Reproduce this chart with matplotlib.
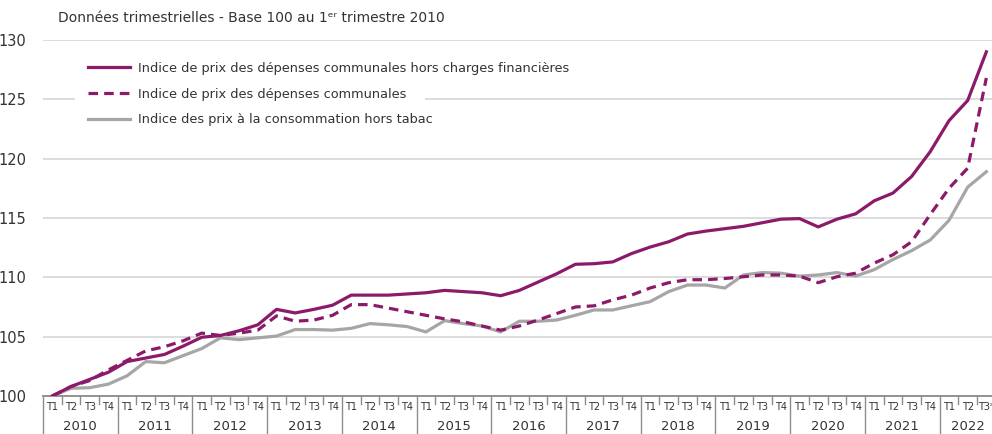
import matplotlib
matplotlib.use("Agg")
import matplotlib.pyplot as plt
from matplotlib.patches import Rectangle
import numpy as np

years = ["2010", "2011", "2012", "2013", "2014", "2015", "2016",
         "2017", "2018", "2019", "2020", "2021", "2022"]
quarters = ["T1", "T2", "T3", "T4"]
last_quarter_labels = ["T1", "T2", "T3*"]

hors_charges = [100.0, 100.8, 101.4, 102.0,
                102.9, 103.2, 103.5, 104.2,
                104.95, 105.1, 105.5, 106.0,
                107.3, 107.0, 107.3, 107.65,
                108.5, 108.5, 108.5, 108.6,
                108.7, 108.9, 108.8, 108.7,
                108.45, 108.9, 109.6, 110.3,
                111.1, 111.15, 111.3, 112.0,
                112.55, 113.0, 113.65, 113.9,
                114.1, 114.3, 114.6, 114.9,
                114.95, 114.25, 114.9, 115.35,
                116.45, 117.1, 118.5, 120.6,
                123.2, 124.9, 129.0]

depenses = [100.0, 100.8, 101.3, 102.2,
            103.0, 103.8, 104.15, 104.65,
            105.3, 105.1, 105.3, 105.55,
            106.75, 106.3, 106.4, 106.8,
            107.7, 107.7, 107.4, 107.1,
            106.8, 106.5, 106.25, 105.9,
            105.55, 105.9, 106.4, 106.95,
            107.5, 107.6, 108.1, 108.5,
            109.1, 109.55, 109.8, 109.8,
            109.9, 110.05, 110.2, 110.2,
            110.1, 109.55, 110.05, 110.35,
            111.2, 111.9, 113.0, 115.3,
            117.5, 119.2, 126.8]

ipc = [100.0, 100.65, 100.7, 101.0,
       101.7, 102.9, 102.8, 103.4,
       104.0, 104.9, 104.75, 104.9,
       105.05, 105.6, 105.6, 105.55,
       105.7, 106.1, 106.0, 105.85,
       105.4, 106.35, 106.1, 105.9,
       105.4, 106.3, 106.3, 106.4,
       106.8, 107.25, 107.25, 107.6,
       107.95, 108.8, 109.35, 109.35,
       109.1, 110.2, 110.4, 110.35,
       110.1, 110.2, 110.4, 110.1,
       110.65, 111.5, 112.25, 113.15,
       114.8, 117.6, 118.9]

labels = ["Indice de prix des dépenses communales hors charges financières",
          "Indice de prix des dépenses communales",
          "Indice des prix à la consommation hors tabac"]
title = "Données trimestrielles - Base 100 au 1ᵉʳ trimestre 2010"
yticks = [100, 105, 110, 115, 120, 125, 130]

PURPLE = "#8C1A6A"
GREY = "#A6A6A6"
TXT = "#333333"

plt.rcParams['font.family'] = ['DejaVu Sans']

fig = plt.figure(figsize=(9.92, 4.34), dpi=100)
W, H = 992, 434
AXW = 51 * 18.68
AXH = 396 - 40
ax = fig.add_axes([43 / W, 1 - 396 / H, AXW / W, AXH / H])

x = np.arange(len(hors_charges))
ax.plot(x, ipc, color=GREY, lw=2.3, label=labels[2], zorder=3)
ax.plot(x, depenses, color=PURPLE, lw=2.3, ls=(0, (3.0, 1.9)), label=labels[1], zorder=4)
ax.plot(x, hors_charges, color=PURPLE, lw=2.3, label=labels[0], zorder=5)

ax.set_xlim(-0.5, len(hors_charges) - 0.5)
ax.set_ylim(100, 130)
ax.set_yticks(yticks)
ax.set_yticklabels([str(v) for v in yticks], fontsize=10.5, color=TXT)
ax.tick_params(axis='y', length=0, pad=8)
ax.yaxis.grid(True, color="#D9D9D9", lw=1.3)
ax.set_axisbelow(True)
for s in ["top", "right", "left"]:
    ax.spines[s].set_visible(False)
ax.spines["bottom"].set_color("#8C8C8C")
ax.spines["bottom"].set_linewidth(1.3)
ax.set_xticks([])
for lbl in ax.get_yticklabels():
    lbl.set_horizontalalignment('left')
    lbl.set_x(-33 / AXW)

# white gap in the 125 gridline behind the legend
ax.add_patch(Rectangle(((75 - 43) / AXW, (396 - 104) / AXH), 350 / AXW, 10 / AXH,
                       transform=ax.transAxes, facecolor="white", edgecolor="none",
                       zorder=1))

# Two-level category axis
trans = ax.get_xaxis_transform()
px = 1.0 / AXH
idx = 0
for yi, yr in enumerate(years):
    qlabels = quarters if yi < len(years) - 1 else last_quarter_labels
    start = idx
    for qi, q in enumerate(qlabels):
        ax.text(idx, -11 * px, q, transform=trans, ha='center', va='center',
                fontsize=7, color=TXT, clip_on=False)
        if qi > 0:
            ax.plot([idx - 0.5, idx - 0.5], [0, -8 * px], transform=trans,
                    color="#8C8C8C", lw=1, clip_on=False)
        idx += 1
    ax.plot([start - 0.5, start - 0.5], [0, -40 * px], transform=trans,
            color="#8C8C8C", lw=1, clip_on=False)
    ax.text((start + idx - 1) / 2, -30 * px, yr, transform=trans, ha='center',
            va='center', fontsize=9.5, color=TXT, clip_on=False)

handles, labs = ax.get_legend_handles_labels()
order = [2, 1, 0]
leg = ax.legend([handles[i] for i in order], [labs[i] for i in order],
                loc='upper left', bbox_to_anchor=(45 / AXW, 1 - 22 * px),
                frameon=False, fontsize=9.3, handlelength=3.25, handletextpad=0.62,
                labelspacing=0.97, borderpad=0, borderaxespad=0, labelcolor=TXT)

fig.text(58 / W, 1 - 18 / H, title, fontsize=10, color=TXT, ha='left', va='center')

fig.savefig("out.png", dpi=100)
